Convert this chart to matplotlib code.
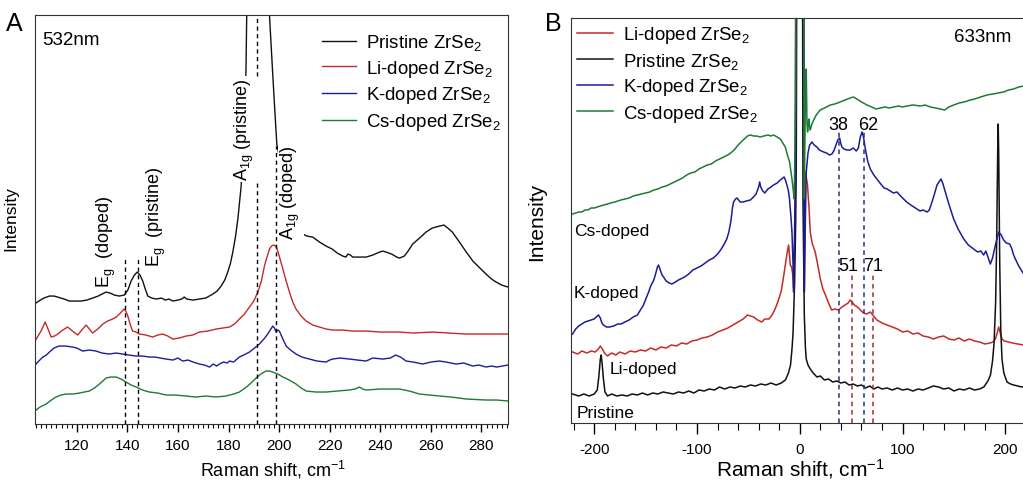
import numpy as np
import matplotlib
matplotlib.use('Agg')
import matplotlib.pyplot as plt
from matplotlib.ticker import MultipleLocator

plt.rcParams['font.family'] = ['Liberation Sans', 'DejaVu Sans']
plt.rcParams['mathtext.default'] = 'regular'
plt.rcParams['axes.unicode_minus'] = False

# ---- Panel A (532 nm): (Raman shift, intensity a.u.) ----
pristine_a = [(103.3, 120), (105, 123), (107, 126), (109.2, 128), (111, 128), (112.5, 127), (115, 125),
              (117.1, 123), (119.5, 123), (121.7, 123), (124, 124), (126.3, 126), (128.5, 128), (130, 130),
              (131.6, 132), (133.2, 131), (134.9, 129), (136.8, 128), (138.8, 129), (140.2, 134), (141.5, 143),
              (142.8, 149), (143.9, 152), (145, 149), (146.1, 143), (147.1, 135), (148.1, 128), (149.7, 126),
              (151.4, 125), (153.5, 126), (155, 124), (156.5, 125), (158, 123), (160, 124), (161.5, 125),
              (162.5, 127), (163.5, 125), (166, 124), (168.5, 125), (171, 126), (173.8, 130), (175.5, 133),
              (177.1, 138), (178.5, 144), (179.7, 152), (180.8, 161), (181.7, 172), (182.8, 188), (183.7, 205),
              (185, 238), (186, 290), (186.9, 353), (187.2, 409), (188, 560), (189, 750), (190, 880), (191, 920),
              (192, 900), (193, 780), (194, 640), (195, 520), (196.2, 409), (197, 372), (198, 327), (199.1, 280),
              (201, 255), (203, 232), (205, 215), (207, 203), (209.4, 190), (211, 188), (213.3, 187), (216, 182),
              (218.6, 178), (221, 175), (223, 171), (225.2, 168), (226.4, 167), (227.2, 170), (228.2, 169),
              (229.1, 167), (231.5, 167), (234.4, 167), (237, 169), (239.7, 172), (241, 173), (242.3, 172),
              (244.5, 170), (246.5, 167), (247.6, 166), (249.5, 168), (251, 173), (252.8, 180), (255.5, 186),
              (258.1, 192), (260.5, 196), (263.4, 198), (265.2, 199), (266.7, 196), (268.5, 192), (271.3, 182),
              (274, 172), (276.6, 163), (279, 157), (281.8, 150), (284, 145), (285.8, 142), (288, 139), (290.5, 137)]
li_a = [(103.5, 83), (104.7, 88), (105.9, 93), (107.5, 102), (108.5, 96), (109.9, 87), (111.2, 88), (112.5, 90),
        (114.5, 94), (116.4, 97), (118.3, 93), (120.4, 89), (122, 94), (123.7, 99), (125, 95), (126.3, 91),
        (128.3, 95), (130.3, 100), (132.2, 103), (134.2, 105), (135.6, 107), (136.9, 110), (138, 113), (138.6, 115),
        (139.4, 113), (140.2, 108), (141.1, 100), (142.1, 93), (143.4, 92), (144.8, 90), (147.4, 89), (150, 87),
        (152, 89), (154, 90), (156, 88), (158, 85), (160.5, 86), (163.2, 88), (165.8, 89), (168.5, 92), (171.8, 93),
        (175.1, 95), (177.7, 96), (180.4, 97), (182.4, 100), (184.3, 105), (186.3, 110), (188.3, 117), (190, 123),
        (191.6, 132), (193, 143), (194.2, 158), (195.2, 167), (196.2, 175), (197, 178), (197.8, 179), (198.7, 178),
        (199.5, 173), (200.5, 164), (201.5, 155), (202.8, 143), (204.1, 132), (205.4, 122), (206.7, 115),
        (208.7, 108), (210.7, 103), (213.3, 99), (216, 97), (218.6, 95), (221.2, 94), (225, 94), (229, 93),
        (234.4, 93), (240, 92), (247.6, 92), (253, 91), (260.8, 92), (267, 91), (274, 90), (282, 90), (290.5, 90)]
k_a = [(103.9, 60), (105, 63), (106.6, 67), (108, 69), (109.2, 72), (111, 76), (113.1, 78), (115.5, 78), (118.4, 77),
       (120, 76), (122.4, 73), (125, 74), (127.6, 73), (130, 71), (132.9, 70), (135.5, 71), (138.2, 70), (140.5, 69),
       (143.5, 68), (146, 68), (148.7, 67), (151, 67), (153, 66), (155.3, 65), (158, 64), (160, 66), (161.9, 63),
       (164, 64), (166, 62), (168.5, 60), (170.5, 59), (172.5, 57), (174, 60), (175.3, 58), (176.4, 60), (178, 62),
       (179.5, 61), (180.4, 63), (182, 62), (184.3, 67), (186, 69), (188.3, 72), (190.3, 76), (192.2, 80), (194, 85),
       (195.5, 90), (196.5, 94), (197.5, 98), (198.2, 96), (198.8, 92), (199.5, 94), (200.1, 93), (201.5, 85),
       (202.8, 78), (204.5, 74), (206.7, 70), (209, 67), (212, 65), (215, 63), (218.6, 62), (220, 64), (221.2, 65),
       (224, 66), (227.8, 65), (231, 64), (234.4, 63), (237, 66), (241, 65), (244, 66), (246, 69), (248, 67),
       (250.2, 63), (253, 62), (256.8, 60), (260, 62), (263.4, 63), (266, 62), (270, 60), (273, 61), (276.6, 58),
       (279, 59), (281.8, 57), (284, 58), (286, 57), (290.5, 59)]
cs_a = [(103.9, 14), (105.5, 17), (107.9, 20), (110, 24), (111.8, 27), (113.8, 29), (115.8, 30), (118.5, 30),
        (121.1, 31), (123, 32), (125, 33), (127, 36), (129, 40), (130.3, 43), (131.6, 46), (133.5, 47), (135.6, 47),
        (137.5, 45), (139.5, 42), (141.5, 39), (143.5, 37), (146, 34), (148.7, 32), (152, 31), (155.3, 29), (159, 29),
        (163.2, 28), (167, 27), (171.1, 28), (175, 27), (179, 28), (182, 30), (184.3, 32), (186, 35), (187.6, 38),
        (189.3, 42), (190.9, 46), (192.8, 50), (194.8, 53), (196.2, 53), (197.5, 52), (199.5, 50), (201.5, 47),
        (204, 44), (206.7, 40), (208.7, 36), (210.7, 33), (214.5, 32), (218.6, 32), (223, 33), (227.8, 34), (230, 35),
        (231.8, 37), (233, 35), (234.4, 34), (240, 35), (247.6, 35), (251.5, 33), (255.5, 30), (259.5, 29),
        (263.4, 28), (268, 27), (274, 25), (281.8, 24), (286, 24), (290.5, 23)]

# dashed guide lines of panel A: position, bottom, top
guides_a = [(139.0, 0, 168), (144.3, 0, 168), (191.4, 0, 243), (191.4, 348, 409), (198.6, 0, 278)]

# ---- Panel B (633 nm) ----
pristine_b = [(-221, 29), (-215, 27), (-210, 29), (-205, 27), (-200, 29), (-197, 33), (-195.5, 46), (-194, 64),
              (-193.2, 68), (-192.3, 60), (-191, 44), (-189.5, 31), (-187, 27), (-183, 29), (-178, 27), (-173, 28),
              (-168, 27), (-163, 29), (-158, 28), (-153, 30), (-148, 28), (-143, 30), (-138, 29), (-133, 31),
              (-128, 30), (-123, 29), (-118, 31), (-113, 30), (-108, 32), (-103, 30), (-98, 33), (-93, 32), (-88, 34),
              (-83, 33), (-78, 36), (-73, 34), (-68, 36), (-63, 35), (-58, 37), (-53, 36), (-48, 38), (-43, 37),
              (-38, 39), (-33, 38), (-28, 40), (-23, 38), (-18, 40), (-14, 43), (-11, 50), (-9, 58), (-7.5, 75),
              (-6.5, 91), (-5, 141), (-4, 200), (-3.4, 258), (-2.1, 800), (0, 3000), (2.1, 800), (3.1, 224),
              (4.4, 108), (5.5, 75), (6.3, 64), (8, 58), (10.2, 54), (13, 50), (16.7, 46), (20, 47), (24, 43), (28, 44),
              (32, 41), (36, 42), (40, 40), (44, 41), (48, 38), (52, 39), (56, 37), (60, 38), (64, 35), (68, 37),
              (72, 34), (76, 36), (80, 34), (85, 35), (90, 33), (95, 35), (100, 33), (105, 34), (110, 32), (115, 34),
              (120, 33), (125, 35), (130, 37), (135, 36), (140, 34), (145, 35), (150, 32), (155, 34), (160, 33),
              (165, 35), (170, 33), (175, 34), (179, 36), (183, 42), (185.5, 48), (187.5, 62), (189, 80), (190.5, 120),
              (191.5, 180), (192.5, 270), (193, 299), (193.5, 270), (194.5, 160), (195.5, 95), (196.7, 64),
              (198.5, 50), (201.6, 41), (205, 39), (208, 38), (212, 37), (216, 36), (220, 37), (226, 36)]
li_b = [(-221, 71), (-216, 69), (-212, 72), (-207, 70), (-203, 72), (-199, 71), (-196, 74), (-194, 77), (-192, 74),
        (-190, 70), (-187, 67), (-183, 70), (-179, 68), (-175, 71), (-170, 69), (-165, 72), (-160, 71), (-155, 73),
        (-150, 72), (-145, 75), (-140, 73), (-135, 76), (-130, 75), (-125, 78), (-120, 77), (-115, 80), (-110, 79),
        (-105, 82), (-100, 83), (-95, 85), (-90, 86), (-85, 88), (-80, 91), (-75, 93), (-70, 95), (-65, 98),
        (-60, 101), (-55, 104), (-51, 108), (-48, 107), (-45, 106), (-41, 103), (-37, 101), (-34, 104), (-30, 104),
        (-27, 108), (-24, 114), (-21, 122), (-18, 132), (-15.5, 148), (-13.5, 162), (-12, 172), (-10.9, 178),
        (-10, 168), (-9.2, 158), (-8, 156), (-7, 150), (-6, 135), (-4.5, 200), (-3, 1000), (0, 3000), (3, 1000),
        (4.4, 131), (5.4, 251), (6.5, 245), (7.5, 238), (9, 215), (10.2, 191), (12, 180), (15, 171), (17.5, 158),
        (20, 144), (22.5, 134), (25, 128), (28, 120), (31, 113), (34, 114), (37.8, 113), (41, 116), (44, 118),
        (47, 120), (49, 123), (51, 121), (53, 118), (56, 116), (59, 113), (62, 110), (65, 109), (68.6, 111),
        (71, 108), (75, 103), (80, 100), (85, 98), (90, 96), (95, 94), (100, 91), (105, 92), (110, 89), (115, 90),
        (120, 87), (125, 86), (130, 84), (135, 86), (140, 87), (145, 84), (150, 83), (155, 85), (160, 82), (165, 84),
        (170, 82), (175, 81), (180, 79), (185, 80), (188, 81), (190.3, 84), (192, 90), (193.5, 96), (195, 90),
        (196.7, 84), (199, 82), (203, 81), (207, 80), (212, 79), (217.8, 78), (226, 78)]
k_b = [(-221, 89), (-218, 94), (-215, 97), (-212, 99), (-209, 101), (-206, 102), (-203, 103), (-200, 104),
       (-197, 107), (-195.8, 108), (-194, 105), (-192.5, 100), (-191, 98), (-188, 96), (-185, 96), (-181, 97),
       (-177, 99), (-174, 99), (-170, 101), (-166, 103), (-162, 106), (-158, 108), (-155, 113), (-152, 118),
       (-149, 126), (-147, 131), (-145, 137), (-142, 143), (-140, 150), (-138.5, 156), (-137.4, 158), (-136, 154),
       (-134, 148), (-132.5, 146), (-130, 142), (-127, 140), (-124.4, 139), (-121, 141), (-118, 143), (-116, 144),
       (-112, 146), (-108, 149), (-104, 153), (-100, 155), (-96, 157), (-92, 160), (-88, 163), (-84, 165), (-80, 169),
       (-77, 173), (-74, 178), (-71, 184), (-69, 191), (-67, 202), (-65.5, 215), (-64.4, 221), (-62.5, 224),
       (-61, 225), (-58, 221), (-55, 221), (-52, 222), (-48, 223), (-45, 226), (-42.5, 229), (-40, 236), (-39, 241),
       (-38, 236), (-36, 232), (-34, 230), (-31, 234), (-28, 236), (-25.5, 238), (-22, 240), (-19, 243),
       (-16.5, 245), (-15.2, 246), (-14, 243), (-12.5, 238), (-11, 232), (-10, 224), (-8.5, 205), (-7.6, 191),
       (-6.6, 160), (-6, 131), (-5, 200), (-4.1, 258), (-3, 1000), (0, 3000), (3, 1000), (4.4, 131), (5.4, 200),
       (6.3, 251), (8, 270), (9.6, 278), (11.8, 281), (14, 278), (16.7, 276), (19, 273), (21, 272), (23.2, 271),
       (26, 270), (29, 268), (31.3, 269), (33.5, 273), (35.5, 279), (37, 283), (38.8, 285), (40, 279), (41, 276),
       (43, 274), (46, 273), (49, 273), (52, 275), (55, 272), (57, 275), (58.9, 286), (60.5, 291), (62, 286),
       (63.8, 274), (66, 262), (68.6, 254), (72, 248), (75, 244), (78, 240), (82, 235), (85, 234), (88, 232),
       (91, 230), (94.6, 231), (98, 227), (101, 224), (104, 221), (108, 218), (111, 216), (114, 214), (117, 212),
       (120, 213), (123.8, 211), (126, 213), (128.6, 221), (131, 229), (133.5, 238), (135.5, 241), (137.4, 244),
       (139, 240), (141.6, 231), (145, 219), (149.7, 204), (154, 194), (159.5, 184), (164, 178), (169.2, 174),
       (173, 171), (176, 172), (178.9, 168), (181, 172), (183, 166), (185.4, 159), (187.5, 165), (190.3, 178),
       (193.5, 191), (196, 188), (198.3, 183), (201, 180), (204.2, 179), (206, 175), (208, 168), (209.7, 164),
       (213, 157), (217.8, 149), (222, 142), (226, 136)]
cs_b = [(-221, 209), (-218, 210), (-215, 211), (-212, 211), (-209, 213), (-206, 213), (-203, 215), (-200, 215),
        (-197, 216), (-194, 217), (-190.9, 218), (-187, 219), (-184, 220), (-180, 221), (-177, 222), (-174, 223),
        (-170, 224), (-166, 225), (-162, 227), (-158, 228), (-154, 229), (-150, 230), (-146, 231), (-142, 233),
        (-138, 234), (-134, 236), (-130, 237), (-126, 239), (-122, 241), (-118, 243), (-114, 245), (-110, 248),
        (-106, 250), (-102, 251), (-98, 254), (-94, 256), (-90, 258), (-86, 259), (-82, 262), (-78, 264), (-74, 266),
        (-70, 268), (-66, 271), (-63, 274), (-60, 278), (-57, 281), (-54, 284), (-51, 287), (-48, 288), (-45, 287),
        (-42, 287), (-38.5, 286), (-35, 287), (-31, 288), (-28, 287), (-25.5, 288), (-22, 286), (-19, 284),
        (-16.5, 280), (-14.1, 276), (-12, 268), (-9.9, 261), (-8.7, 252), (-7.6, 244), (-6.5, 234), (-5.4, 224),
        (-4.5, 290), (-4.1, 324), (-3.1, 700), (0, 3000), (3, 700), (4.4, 224), (5.4, 320), (6.3, 354), (7, 300),
        (7.6, 291), (8.3, 300), (8.9, 304), (9.6, 296), (10.2, 293), (11.5, 298), (13.5, 303), (16, 308),
        (19.9, 313), (24, 315), (29.7, 318), (34, 319), (39.4, 321), (44, 323), (49.1, 325), (52, 326), (55.6, 324),
        (60, 321), (65.4, 318), (70, 316), (74, 314), (78.3, 315), (83, 316), (87, 315), (91.3, 316), (96, 317),
        (100, 316), (104.3, 317), (110, 318), (117.3, 317), (122, 318), (127, 316), (132, 315), (136.7, 314),
        (141, 313), (145, 316), (149.7, 318), (155, 320), (160, 321), (165.9, 323), (170, 324), (176, 326),
        (182.1, 328), (188, 329), (193, 330), (198.3, 331), (203, 333), (208, 334), (213, 336), (217.8, 337),
        (226, 339)]

# peak markers of panel B
k_modes = [38, 62]
li_modes = [51, 71]

black = '#111111'
red = '#c42a2a'
blue = '#1c1c9a'
green = '#1f7a33'

fig = plt.figure(figsize=(10.23, 4.81), dpi=100)

# ---------------- Panel A ----------------
ax = fig.add_axes([0.0342, 0.1164, 0.4624, 0.850])
for data, col, lab in [(pristine_a, black, 'Pristine ZrSe$_2$'), (li_a, red, 'Li-doped ZrSe$_2$'),
                       (k_a, blue, 'K-doped ZrSe$_2$'), (cs_a, green, 'Cs-doped ZrSe$_2$')]:
    x, y = np.array(data).T
    ax.plot(x, y, color=col, lw=1.0, label=lab)
for xg, y0, y1 in guides_a:
    ax.plot([xg, xg], [y0, y1], color='k', lw=1.0, ls=(0, (3, 2.5)))

ax.set_xlim(103.5, 290.5)
ax.set_ylim(0, 409)
ax.set_yticks([])
ax.xaxis.set_major_locator(MultipleLocator(20))
ax.xaxis.set_minor_locator(MultipleLocator(2))
ax.tick_params(axis='x', which='major', direction='out', length=6, width=1, labelsize=11, pad=4)
ax.tick_params(axis='x', which='minor', direction='out', length=3, width=0.8)
for s in ax.spines.values():
    s.set_color('#333333')
ax.set_ylabel('Intensity', fontsize=12.5)
ax.yaxis.set_label_coords(-0.036, 0.506)
ax.set_xlabel('Raman shift, cm$^{-1}$', fontsize=13)
ax.xaxis.set_label_coords(0.503, -0.082)

ax.text(0.015, 0.941, '532nm', transform=ax.transAxes, fontsize=13.5, va='center', ha='left')
ax.text(131.6, 183, 'E$_g$  (doped)', rotation=90, fontsize=13, ha='center', va='center')
ax.text(151.4, 208, 'E$_g$  (pristine)', rotation=90, fontsize=13, ha='center', va='center')
ax.text(186.3, 295, 'A$_{1g}$ (pristine)', rotation=90, fontsize=13, ha='center', va='center',
        bbox=dict(facecolor='white', edgecolor='none', pad=1))
ax.text(204.6, 232, 'A$_{1g}$ (doped)', rotation=90, fontsize=13, ha='center', va='center',
        bbox=dict(facecolor='white', edgecolor='none', pad=1))
ax.legend(loc='upper left', bbox_to_anchor=(0.607, 0.958), frameon=False, fontsize=13.4,
          handlelength=1.8, handletextpad=0.55, labelspacing=0.3, borderpad=0, borderaxespad=0)
fig.text(0.006, 0.951, 'A', fontsize=18, ha='left', va='center')

# ---------------- Panel B ----------------
bx = fig.add_axes([0.5582, 0.1185, 0.4497, 0.842])
for data, col, lab in [(li_b, red, 'Li-doped ZrSe$_2$'), (pristine_b, black, 'Pristine ZrSe$_2$'),
                       (k_b, blue, 'K-doped ZrSe$_2$'), (cs_b, green, 'Cs-doped ZrSe$_2$')]:
    x, y = np.array(data).T
    bx.plot(x, y, color=col, lw=1.1, label=lab)
bx.vlines(k_modes, 0, 292, colors='#2e2e7a', lw=1.1, linestyles=(0, (3, 2.5)))
bx.vlines(li_modes, 0, 148, colors='#9c2a45', lw=1.1, linestyles=(0, (3, 2.5)))
for m, xt in zip(k_modes, [37.8, 67.0]):
    bx.text(xt, 299, str(m), fontsize=13, ha='center', va='center')
for m, xt in zip(li_modes, [47.5, 70.9]):
    bx.text(xt, 158, str(m), fontsize=13, ha='center', va='center')

bx.set_xlim(-222.5, 225)
bx.set_ylim(0, 405)
bx.set_yticks([])
bx.xaxis.set_major_locator(MultipleLocator(100))
bx.xaxis.set_minor_locator(MultipleLocator(20))
bx.tick_params(axis='x', which='major', direction='out', length=8, width=1, labelsize=11, pad=6)
bx.tick_params(axis='x', which='minor', direction='out', length=5, width=0.8)
for s in bx.spines.values():
    s.set_color('#333333')
bx.set_ylabel('Intensity', fontsize=15)
bx.yaxis.set_label_coords(-0.054, 0.5)
bx.set_xlabel('Raman shift, cm$^{-1}$', fontsize=15)
bx.xaxis.set_label_coords(0.498, -0.082)

bx.text(150.4, 386, '633nm', fontsize=13.5, ha='left', va='center')
for lab, xt, yt in [('Cs-doped', -219.5, 193), ('K-doped', -219.5, 131),
                    ('Li-doped', -185.1, 55), ('Pristine', -217.5, 11)]:
    bx.text(xt, yt, lab, fontsize=12.5, ha='left', va='center')
bx.legend(loc='upper left', bbox_to_anchor=(0.013, 0.985), frameon=False, fontsize=13.4,
          handlelength=1.95, handletextpad=0.5, labelspacing=0.3, borderpad=0, borderaxespad=0)
fig.text(0.5406, 0.951, 'B', fontsize=18, ha='center', va='center')

fig.savefig('out.png', dpi=100)
